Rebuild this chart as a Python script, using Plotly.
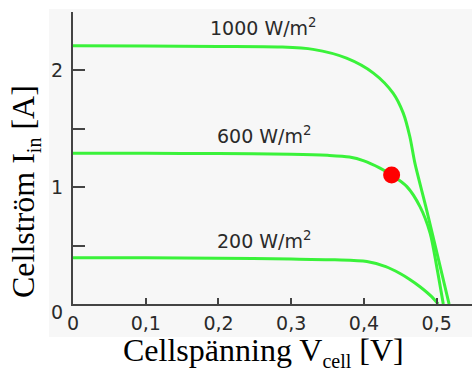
import plotly.graph_objects as go

# Data (V in volts, I in amperes)
v_1000 = [0, 0.1, 0.2, 0.285, 0.33, 0.376, 0.413, 0.44, 0.454, 0.463, 0.47, 0.485, 0.5015, 0.517]
i_1000 = [2.21, 2.208, 2.205, 2.2, 2.18, 2.105, 1.977, 1.805, 1.634, 1.434, 1.206, 0.834, 0.405, 0.0]

v_600 = [0, 0.1, 0.2, 0.3, 0.35, 0.38, 0.40, 0.422, 0.438, 0.459, 0.477, 0.491, 0.5, 0.509]
i_600 = [1.291, 1.29, 1.288, 1.283, 1.273, 1.258, 1.225, 1.163, 1.105, 1.005, 0.834, 0.606, 0.32, 0.0]

v_200 = [0, 0.1, 0.2, 0.3, 0.36, 0.404, 0.43, 0.449, 0.463, 0.477, 0.493, 0.502]
i_200 = [0.397, 0.395, 0.392, 0.385, 0.378, 0.363, 0.32, 0.263, 0.21, 0.148, 0.063, 0.0]

curve_labels = ["1000 W/m<sup>2</sup>", "600 W/m<sup>2</sup>", "200 W/m<sup>2</sup>"]
label_x = [0.262, 0.262, 0.262]
label_y = [2.37, 1.45, 0.55]

mpp_v = [0.438]
mpp_i = [1.105]

x_tickvals = [0, 0.1, 0.2, 0.3, 0.4, 0.5]
x_ticktext = ["0", "0,1", "0,2", "0,3", "0,4", "0,5"]
y_tickvals = [1, 2]
y_ticktext = ["1", "2"]

GREEN = "#3af23a"
AXIS = "#444444"
TICKFONT = dict(family="DejaVu Sans", size=19, color="#2a2a2a")

fig = go.Figure()
for v, i in [(v_1000, i_1000), (v_600, i_600), (v_200, i_200)]:
    fig.add_trace(go.Scatter(x=v, y=i, mode="lines", line=dict(color=GREEN, width=3, shape="spline", smoothing=0.8),
                             showlegend=False, hoverinfo="skip"))
fig.add_trace(go.Scatter(x=mpp_v, y=mpp_i, mode="markers", marker=dict(color="#ff0000", size=17),
                         showlegend=False))

for t, x, y in zip(curve_labels, label_x, label_y):
    fig.add_annotation(x=x, y=y, text=t, showarrow=False, font=TICKFONT, xanchor="center", yanchor="middle")

# y "0" label (slightly lower than the axis, as in the reference)
fig.add_annotation(x=0, y=0, xref="x", yref="y", text="0", showarrow=False, font=TICKFONT,
                   xanchor="right", yanchor="middle", xshift=-8, yshift=-8)

# axis titles
fig.add_annotation(xref="paper", yref="paper", x=(263 - 73) / 399, y=(304 - 352) / 292,
                   text="Cellspänning V<sub><span style='font-size:20px'>cell</span></sub> [V]", showarrow=False,
                   font=dict(family="Liberation Serif", size=32, color="#000"), xanchor="center", yanchor="middle")
fig.add_annotation(xref="paper", yref="paper", x=(25 - 73) / 399, y=(304 - 192) / 292,
                   text="Cellström I<sub><span style='font-size:20px'>in</span></sub> [A]", showarrow=False,
                   textangle=-90,
                   font=dict(family="Liberation Serif", size=32, color="#000"), xanchor="center", yanchor="middle")

# gray panel behind the chart
fig.add_shape(type="rect", xref="paper", yref="paper", x0=(49 - 73) / 399, x1=1.0,
              y0=(304 - 337) / 292, y1=(304 - 9) / 292, fillcolor="#f7f7f7", line=dict(width=0), layer="below")

fig.update_xaxes(range=[0, 0.5485], tickvals=x_tickvals, ticktext=x_ticktext, ticks="inside", ticklen=6,
                 tickwidth=2, tickcolor=AXIS, showline=True, linecolor=AXIS, linewidth=2, showgrid=False,
                 zeroline=False, tickfont=TICKFONT, ticklabelstandoff=1, fixedrange=True)
fig.update_yaxes(range=[0, 2.5], tickvals=y_tickvals, ticktext=y_ticktext, ticks="inside", ticklen=12,
                 tickwidth=2, tickcolor=AXIS, showline=True, linecolor=AXIS, linewidth=2, showgrid=False,
                 zeroline=False, tickfont=TICKFONT, ticklabelstandoff=4, fixedrange=True,
                 minor=dict(tick0=0, dtick=0.5, ticks="inside", ticklen=12, tickwidth=2, tickcolor=AXIS,
                            showgrid=False))

fig.update_layout(width=472, height=371, margin=dict(l=73, r=0, t=12, b=67),
                  paper_bgcolor="white", plot_bgcolor="rgba(0,0,0,0)", showlegend=False)

fig.write_html("out.html", config={"displayModeBar": False},
               post_script="document.body.style.margin='0px';document.body.style.overflow='hidden';")
